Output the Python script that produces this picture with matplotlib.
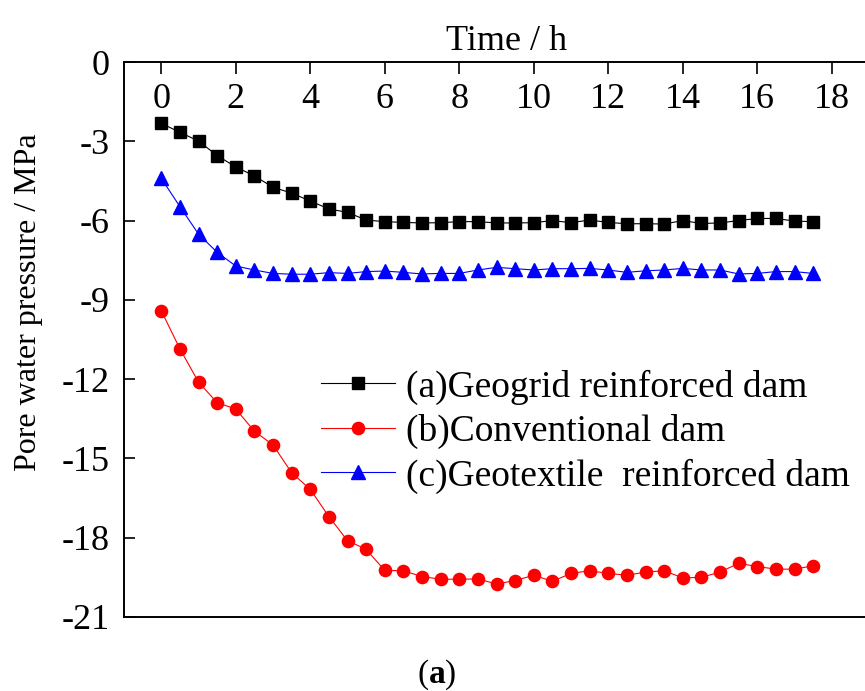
import numpy as np
import matplotlib
matplotlib.use("Agg")
import matplotlib.pyplot as plt

plt.rcParams["font.family"] = ["Liberation Serif", "DejaVu Serif"]
plt.rcParams["mathtext.fontset"] = "custom"
plt.rcParams["mathtext.bf"] = "Liberation Serif:bold"
plt.rcParams["axes.unicode_minus"] = False

# time in hours, one reading every half hour
time_h = np.arange(0, 18, 0.5)

geogrid = [-2.32, -2.66, -2.99, -3.54, -3.97, -4.31, -4.74, -4.96, -5.26, -5.56,
           -5.69, -5.98, -6.04, -6.07, -6.09, -6.08, -6.04, -6.04, -6.09, -6.09,
           -6.08, -6.00, -6.08, -5.98, -6.07, -6.12, -6.12, -6.13, -6.00, -6.11,
           -6.09, -6.00, -5.92, -5.92, -6.02, -6.04]
conventional = [-9.41, -10.85, -12.11, -12.89, -13.13, -13.97, -14.49, -15.54, -16.17, -17.20,
                -18.11, -18.44, -19.24, -19.25, -19.47, -19.57, -19.57, -19.56, -19.75, -19.62,
                -19.42, -19.65, -19.35, -19.25, -19.35, -19.42, -19.30, -19.25, -19.52, -19.50,
                -19.30, -18.97, -19.09, -19.19, -19.19, -19.06]
geotextile = [-4.40, -5.47, -6.51, -7.20, -7.72, -7.87, -8.00, -8.03, -8.03, -7.97,
              -8.00, -7.93, -7.91, -7.96, -8.02, -8.00, -8.00, -7.87, -7.77, -7.82,
              -7.87, -7.82, -7.82, -7.81, -7.87, -7.96, -7.90, -7.87, -7.81, -7.87,
              -7.87, -8.02, -8.00, -7.93, -7.93, -8.00]

labels = ["(a)Geogrid reinforced dam", "(b)Conventional dam", "(c)Geotextile  reinforced dam"]
xticks = list(range(0, 19, 2))
yticks = list(range(0, -22, -3))

fig = plt.figure(figsize=(8.65, 6.91), dpi=100)
# right spine sits just past the image edge, like the original crop
ax = fig.add_axes([124 / 865, 1 - 617 / 691, 745 / 865, 555 / 691])

ax.plot(time_h, geogrid, color="black", lw=0.8, marker="s", ms=8, label=labels[0])
ax.plot(time_h, conventional, color="red", lw=0.8, marker="o", ms=8.8, label=labels[1])
ax.plot(time_h, geotextile, color="blue", lw=0.8, marker="^", ms=10, label=labels[2])

ax.set_xlim(-1, 19)
ax.set_ylim(-21, 0)
ax.set_xticks(xticks)
ax.set_yticks(yticks)
ax.set_yticklabels([str(v) for v in yticks])

ax.xaxis.tick_top()
ax.xaxis.set_label_position("top")
ax.tick_params(axis="x", direction="in", length=8.5, width=1.2, pad=-39, labelsize=26)
ax.tick_params(axis="y", direction="in", length=8, width=1.2, pad=10, labelsize=26)
for side in ["left", "top", "bottom", "right"]:
    ax.spines[side].set_linewidth(1.4)

ax.set_xlabel("Time / h", fontsize=26)
ax.xaxis.set_label_coords(0.514, 1.022)
ax.set_ylabel("Pore water pressure / MPa", fontsize=23, va="center")
ax.yaxis.set_label_coords((29 - 124) / 745, (617 - 302) / 555)

ax.legend(loc="center left", bbox_to_anchor=(321 / 865, 1 - 431.5 / 691),
          bbox_transform=fig.transFigure, frameon=False, fontsize=27,
          borderpad=0, borderaxespad=0, handlelength=1.97, handletextpad=0.29,
          labelspacing=0.25)

fig.text(437 / 865, 1 - 675 / 691, r"($\mathbf{a}$)", fontsize=24, ha="center", va="center")

fig.savefig("out.png", dpi=100)
